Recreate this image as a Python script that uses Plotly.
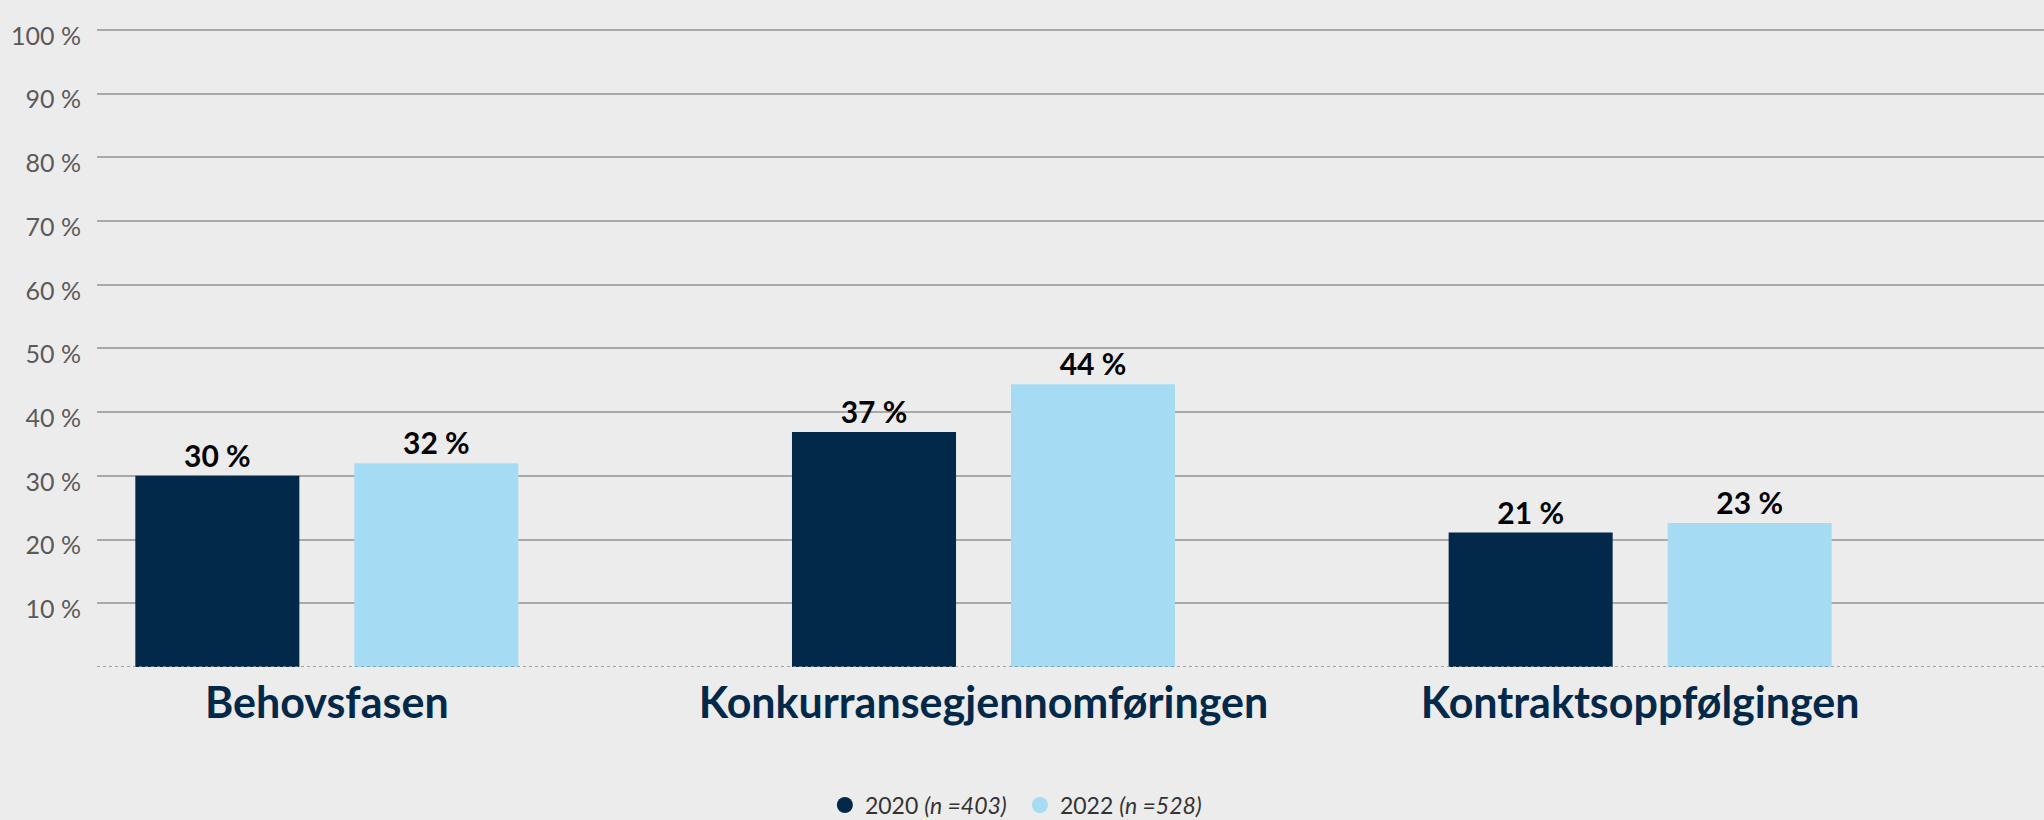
import plotly.graph_objects as go

categories = ["Behovsfasen", "Konkurransegjennomføringen", "Kontraktsoppfølgingen"]
values_2020 = [30.0, 36.9, 21.1]
values_2022 = [32.0, 44.4, 22.6]
labels_2020 = ["30 %", "37 %", "21 %"]
labels_2022 = ["32 %", "44 %", "23 %"]
series_names = ["2020 <i>(n =403)</i>", "2022 <i>(n =528)</i>"]
y_tickvals = [10, 20, 30, 40, 50, 60, 70, 80, 90, 100]
y_ticktext = ["10 %", "20 %", "30 %", "40 %", "50 %", "60 %", "70 %", "80 %", "90 %", "100 %"]

DARK = "#03294a"
LIGHT = "#a6dcf3"
BG = "#ececec"
FONT = "Lato"

fig = go.Figure()
for vals, labs, col in [(values_2020, labels_2020, DARK), (values_2022, labels_2022, LIGHT)]:
    fig.add_trace(go.Bar(
        x=categories, y=vals, text=labs, textposition="outside",
        textfont=dict(family=FONT, size=30, color="#000000", weight="bold"),
        marker=dict(color=col, line=dict(width=0)),
        showlegend=False, cliponaxis=False,
    ))
for name, col in zip(series_names, [DARK, LIGHT]):
    fig.add_trace(go.Scatter(
        x=[None], y=[None], mode="markers", name=name,
        marker=dict(symbol="circle", size=18, color=col),
    ))

fig.update_layout(
    width=2044, height=820,
    paper_bgcolor=BG, plot_bgcolor=BG,
    margin=dict(l=97, r=0, t=28, b=153, autoexpand=False),
    barmode="group", bargap=0.333, bargroupgap=0.251,
    font=dict(family=FONT),
    legend=dict(
        orientation="h", x=0.474, xanchor="center", y=-0.216, yanchor="middle",
        font=dict(family=FONT, size=23, color="#333333"),
        itemsizing="trace", itemwidth=30, entrywidth=150,
        bgcolor="rgba(0,0,0,0)",
    ),
)
fig.update_xaxes(
    range=[-0.35, 2.615], showgrid=False, zeroline=False,
    showline=False, ticks="",
    tickfont=dict(family=FONT, size=43, color=DARK, weight="bold"),
    ticklabelstandoff=7,
)
fig.update_yaxes(
    range=[0, 100.3], tickvals=y_tickvals, ticktext=y_ticktext,
    showgrid=True, gridcolor="#a9a9a9", gridwidth=1.5,
    zeroline=False, showline=False, ticks="",
    tickfont=dict(family=FONT, size=25, color="#5a5a5a"),
    ticklabelstandoff=15, ticklabelshift=6,
)
# dotted baseline
fig.add_shape(type="line", xref="paper", yref="y", x0=0, x1=1, y0=0, y1=0,
              line=dict(color="#8a8a8a", width=1.5, dash="dot"))

fig.write_html(
    "out.html",
    config={"displayModeBar": False},
    post_script="document.body.style.margin='0';document.body.style.background='#ececec';",
)
